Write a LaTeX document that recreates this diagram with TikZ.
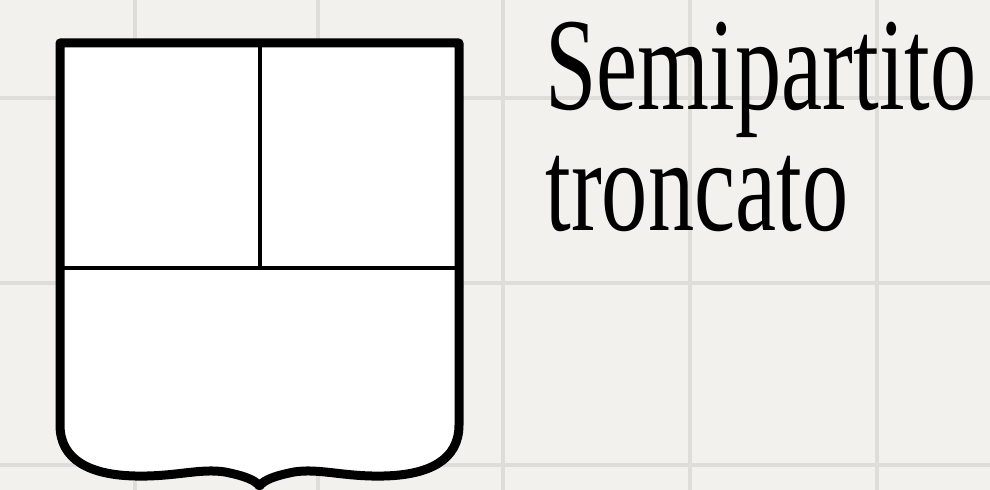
\documentclass[tikz,border=0pt]{standalone}
\usepackage{fontspec}
\setmainfont{Liberation Serif}
\usepackage{tikz}
\usetikzlibrary{positioning}
\definecolor{paper}{HTML}{F2F1EE}
\definecolor{gridgrey}{HTML}{DFDDD9}

\begin{document}
\begin{tikzpicture}[x=0.5pt,y=-0.5pt,
  gridline/.style={draw=gridgrey,line width=1.6pt},
  shieldline/.style={draw=black,line width=4.5pt,fill=white,line join=round},
  partline/.style={draw=black,line width=2pt},
  title/.style={anchor=base west,inner sep=0pt,font=\fontsize{66}{66}\selectfont}
]
  % paper and grid
  \fill[paper] (0,0) rectangle (990,490);
  \useasboundingbox (0,0) rectangle (990,490);
  \foreach \gx in {135,318,503,690,877}
    \draw[gridline] (\gx,0) -- (\gx,490);
  \foreach \gy in {98,283,465}
    \draw[gridline] (0,\gy) -- (990,\gy);

  % shield
  \draw[shieldline] (60,43) -- (60,425)
    .. controls (60,460) and (90,475) .. (135,476)
    .. controls (175,477) and (200,468) .. (225,472)
    .. controls (245,476) and (255,480) .. (259.5,486)
    .. controls (264,480) and (274,476) .. (294,472)
    .. controls (319,468) and (344,477) .. (384,476)
    .. controls (429,475) and (459,460) .. (459,425)
    -- (459,43) -- cycle;
  \draw[partline] (60,268) -- (459,268);
  \draw[partline] (259.5,43) -- (259.5,268);

  % label
  \node[title] (title1) at (545,110) {\scalebox{0.70}[1]{Semipartito}};
  \node[title] (title2) at ([yshift=-60.5pt]title1.base west) {\scalebox{0.70}[1]{troncato}};
\end{tikzpicture}
\end{document}
